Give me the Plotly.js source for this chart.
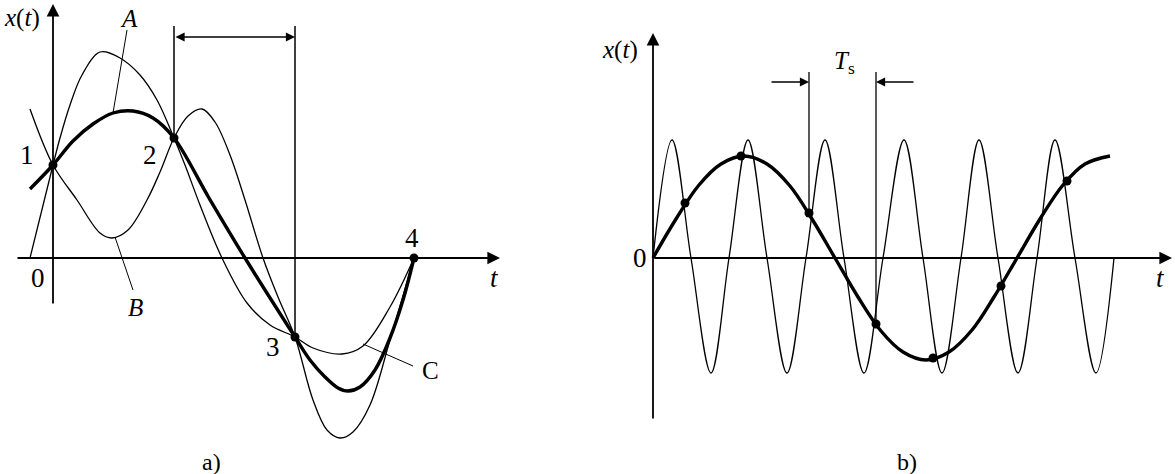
<!DOCTYPE html>
<html>
<head>
<meta charset="utf-8">
<script src="https://cdn.plot.ly/plotly-3.0.1.min.js"></script>
<style>html,body{margin:0;padding:0;background:#fff;}#chart{width:1175px;height:474px;}</style>
</head>
<body>
<div id="chart"></div>
<script>
// ---------- Panel a) : interpolation through 4 sample points ----------
const ptsA_t = [0, 121, 242, 361];
const ptsA_x = [93, 120, -79, 0];

// curve A (thick)
const curveA_t = [-23, 0, 20, 40, 60, 80, 100, 121, 156, 192, 242, 257, 272, 285, 295, 307, 322, 337, 350, 361];
const curveA_x = [69, 93, 117, 134, 145, 147, 140, 120, 60, 0, -79, -102, -119, -130, -133, -129, -112, -80, -42, 0];
// curve B (thin, low hump first)
const curveB_t = [-23, 0, 24, 47, 59, 75, 94, 107, 121, 135, 149, 162, 177, 192, 210, 225, 242, 260, 274, 287, 300, 317, 337, 361];
const curveB_x = [149, 93, 58, 25, 20, 28, 58, 86, 120, 142, 149, 136, 103, 58, 0, -39, -79, -142, -172, -180, -174, -147, -82, 0];
// curve C (thin, high hump first)
const curveC_t = [-23, 0, 7, 17, 29, 47, 67, 87, 104, 121, 132, 147, 169, 194, 217, 242, 260, 289, 310, 337, 361];
const curveC_x = [0, 93, 120, 153, 183, 206, 200, 183, 158, 120, 93, 53, 0, -45, -67, -79, -90, -96, -88, -49, 0];

// ---------- Panel b) : aliasing ----------
const fastB_t = [0, 19, 38, 58, 76, 95, 114, 134, 153, 172, 191, 211, 230, 251, 270, 289, 308, 326, 345, 365, 384, 402, 422, 443, 461];
const fastB_x = [0, 118, 0, -115, 0, 118, 0, -115, 0, 118, 0, -115, 0, 118, 0, -115, 0, 118, 0, -115, 0, 118, 0, -115, 0];
const slowB_t = [0, 23, 46, 68, 91, 114, 137, 159, 182, 205, 228, 250, 273, 296, 319, 341, 364, 387, 410, 432, 457];
const slowB_x = [0, 39, 73, 94, 102, 94, 72, 39, 0, -39, -73, -94, -102, -94, -72, -39, 0, 39, 73, 94, 102];
const samplesB_t = [32, 88, 156, 223, 280, 348, 414];
const samplesB_x = [55, 102, 45, -66, -100, -28, 77];

const BLACK = '#000';
const SERIF = 'Liberation Serif';

const traces = [
  {x: curveC_t, y: curveC_x, xaxis: 'x', yaxis: 'y', mode: 'lines', line: {color: BLACK, width: 1.3, shape: 'spline', smoothing: 1}, hoverinfo: 'skip'},
  {x: curveB_t, y: curveB_x, xaxis: 'x', yaxis: 'y', mode: 'lines', line: {color: BLACK, width: 1.3, shape: 'spline', smoothing: 1}, hoverinfo: 'skip'},
  {x: curveA_t, y: curveA_x, xaxis: 'x', yaxis: 'y', mode: 'lines', line: {color: BLACK, width: 3.4, shape: 'spline', smoothing: 1}, hoverinfo: 'skip'},
  {x: ptsA_t, y: ptsA_x, xaxis: 'x', yaxis: 'y', mode: 'markers', marker: {color: BLACK, size: 9}, hoverinfo: 'skip'},
  {x: fastB_t, y: fastB_x, xaxis: 'x2', yaxis: 'y', mode: 'lines', line: {color: BLACK, width: 1.3, shape: 'spline', smoothing: 1}, hoverinfo: 'skip'},
  {x: slowB_t, y: slowB_x, xaxis: 'x2', yaxis: 'y', mode: 'lines', line: {color: BLACK, width: 3.4, shape: 'spline', smoothing: 1}, hoverinfo: 'skip'},
  {x: samplesB_t, y: samplesB_x, xaxis: 'x2', yaxis: 'y', mode: 'markers', marker: {color: BLACK, size: 9}, hoverinfo: 'skip'}
];

function arrow(xr, x, y, ax, ay, w, side) {
  return {xref: xr, yref: 'y', axref: xr, ayref: 'y', x: x, y: y, ax: ax, ay: ay, text: '', showarrow: true,
          arrowhead: 2, arrowsize: 1.4, arrowwidth: w, arrowcolor: BLACK, arrowside: side || 'end', standoff: 0, startstandoff: 0};
}
function label(xr, x, y, txt, size) {
  return {xref: xr, yref: 'y', x: x, y: y, text: txt, showarrow: false, xanchor: 'center', yanchor: 'middle',
          font: {family: SERIF, size: size, color: BLACK}};
}

const annotations = [
  // panel a axes
  arrow('x', 0, 254, 0, -47, 1.8),
  arrow('x', 447, 0, -37, 0, 1.8),
  // panel a double arrow
  arrow('x', 242, 221, 121, 221, 1.3, 'end+start'),
  // panel a labels
  label('x', -31, 240, '<i>x</i>(<i>t</i>)', 25),
  label('x', 76, 240, '<i>A</i>', 25),
  label('x', 82, -49, '<i>B</i>', 25),
  label('x', 377, -112, 'C', 25),
  label('x', -26, 103, '1', 27),
  label('x', 97, 103, '2', 27),
  label('x', 220, -89, '3', 27),
  label('x', 359, 20, '4', 27),
  label('x', -15, -20, '0', 27),
  label('x', 441, -20, '<i>t</i>', 27),
  label('x', 158, -204, 'a)', 24),
  // panel b axes
  arrow('x2', 0, 225, 0, -162, 1.8),
  arrow('x2', 519, 0, 0, 0, 1.8),
  // Ts arrows
  arrow('x2', 156, 176, 117, 176, 1.3),
  arrow('x2', 223, 176, 262, 176, 1.3),
  label('x2', -33, 208, '<i>x</i>(<i>t</i>)', 25),
  label('x2', -13, 0, '0', 27),
  label('x2', 507, -20, '<i>t</i>', 27),
  label('x2', 191, 196, '<i>T</i><sub>s</sub>', 25),
  label('x2', 254, -204, 'b)', 24)
];

const shapes = [
  {type: 'line', xref: 'x', yref: 'y', x0: 121, x1: 121, y0: 120, y1: 232, line: {color: BLACK, width: 1.5}},
  {type: 'line', xref: 'x', yref: 'y', x0: 242, x1: 242, y0: -79, y1: 232, line: {color: BLACK, width: 1.5}},
  {type: 'line', xref: 'x', yref: 'y', x0: 74, x1: 60, y0: 228, y1: 145, line: {color: BLACK, width: 1}},
  {type: 'line', xref: 'x', yref: 'y', x0: 80, x1: 62, y0: -32, y1: 21, line: {color: BLACK, width: 1}},
  {type: 'line', xref: 'x', yref: 'y', x0: 360, x1: 310, y0: -108, y1: -86, line: {color: BLACK, width: 1}},
  {type: 'line', xref: 'x2', yref: 'y', x0: 156, x1: 156, y0: 45, y1: 186, line: {color: BLACK, width: 1.3}},
  {type: 'line', xref: 'x2', yref: 'y', x0: 223, x1: 223, y0: -66, y1: 186, line: {color: BLACK, width: 1.3}}
];

const layout = {
  width: 1175, height: 474, autosize: false,
  margin: {l: 0, r: 0, t: 0, b: 0, pad: 0},
  paper_bgcolor: '#fff', plot_bgcolor: '#fff',
  showlegend: false,
  font: {family: SERIF, color: BLACK},
  xaxis: {range: [-53, 1122], domain: [0, 1], visible: false, fixedrange: true},
  xaxis2: {range: [-653, 522], domain: [0, 1], overlaying: 'x', anchor: 'y', visible: false, fixedrange: true},
  yaxis: {range: [-216, 258], domain: [0, 1], visible: false, fixedrange: true},
  annotations: annotations,
  shapes: shapes
};

Plotly.newPlot('chart', traces, layout, {staticPlot: true, displayModeBar: false});
</script>
</body>
</html>
